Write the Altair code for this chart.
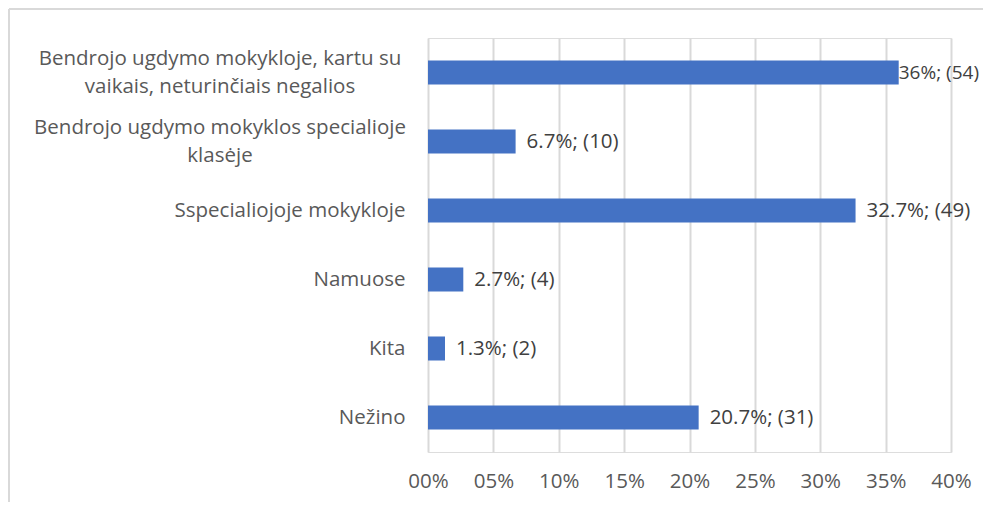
import altair as alt
import pandas as pd

categories = [
    "Bendrojo ugdymo mokykloje, kartu su vaikais, neturinčiais negalios",
    "Bendrojo ugdymo mokyklos specialioje klasėje",
    "Sspecialiojoje mokykloje",
    "Namuose",
    "Kita",
    "Nežino",
]
line1 = ["Bendrojo ugdymo mokykloje, kartu su", "Bendrojo ugdymo mokyklos specialioje", "", "", "", ""]
line2 = ["vaikais, neturinčiais negalios", "klasėje", "", "", "", ""]
percents = [36, 6.7, 32.7, 2.7, 1.3, 20.7]
counts = [54, 10, 49, 4, 2, 31]
x_ticks = [0, 5, 10, 15, 20, 25, 30, 35, 40]

df = pd.DataFrame({
    "cat": categories,
    "line1": line1,
    "line2": line2,
    "pct": percents,
    "n": counts,
    "label": [f"{p:g}%; ({c})" for p, c in zip(percents, counts)],
})

FONT = "Open Sans"
GREY = "#595959"
FS = 20.5

y_enc = alt.Y(
    "cat:N", sort=None, title=None,
    scale=alt.Scale(paddingInner=0.652, paddingOuter=0.326),
    axis=alt.Axis(domain=False, ticks=False, labelPadding=23, labelFontSize=FS,
                  labelColor=GREY, labelFont=FONT, labelLimit=400,
                  labelExpr="length(datum.value) > 30 ? '' : datum.value"),
)
x_enc = alt.X(
    "pct:Q", title=None,
    scale=alt.Scale(domain=[0, 40], nice=False),
    axis=alt.Axis(values=x_ticks, domain=False, ticks=False, grid=True,
                  gridColor="#d9d9d9", gridWidth=2, labelPadding=19,
                  labelFlush=False, labelOverlap=False,
                  labelFontSize=FS, labelColor=GREY, labelFont=FONT,
                  labelExpr="datum.value < 10 ? '0' + datum.value + '%' : datum.value + '%'"),
)

base = alt.Chart(df)

bars = base.mark_bar(color="#4472C4").encode(x=x_enc, y=y_enc)

labels = base.mark_text(align="left", baseline="middle", dx=11, fontSize=FS,
                        font=FONT, color="#404040").encode(
    x="pct:Q", y=alt.Y("cat:N", sort=None), text="label:N"
).transform_filter("datum.pct < 35")

labels_big = base.mark_text(align="left", baseline="middle", dx=0, fontSize=19,
                            font=FONT, color="#404040").encode(
    x="pct:Q", y=alt.Y("cat:N", sort=None), text="label:N"
).transform_filter("datum.pct >= 35")

cat_l1 = base.mark_text(align="center", baseline="middle", dy=-14, fontSize=FS,
                        font=FONT, color=GREY).encode(
    x=alt.value(-208), y=alt.Y("cat:N", sort=None), text="line1:N"
).transform_filter("datum.line1 != ''")

cat_l2 = base.mark_text(align="center", baseline="middle", dy=14, fontSize=FS,
                        font=FONT, color=GREY).encode(
    x=alt.value(-208), y=alt.Y("cat:N", sort=None), text="line2:N"
).transform_filter("datum.line2 != ''")

border_left = alt.Chart(df).mark_rule(color="#d9d9d9", strokeWidth=2).encode(
    x=alt.value(-419), y=alt.value(-29), y2=alt.value(470)
)
border_top = alt.Chart(df).mark_rule(color="#d9d9d9", strokeWidth=2).encode(
    x=alt.value(-419), x2=alt.value(560), y=alt.value(-29)
)

chart = alt.layer(
    border_left, border_top, bars, labels, labels_big, cat_l1, cat_l2
).properties(
    width=523, height=414,
    autosize=alt.AutoSizeParams(type="none"),
    padding={"left": 420, "top": 30, "right": 32, "bottom": 50},
).configure_view(stroke=None).configure(background="white")

chart.save("out.html", embed_options={"renderer": "svg", "actions": False})
